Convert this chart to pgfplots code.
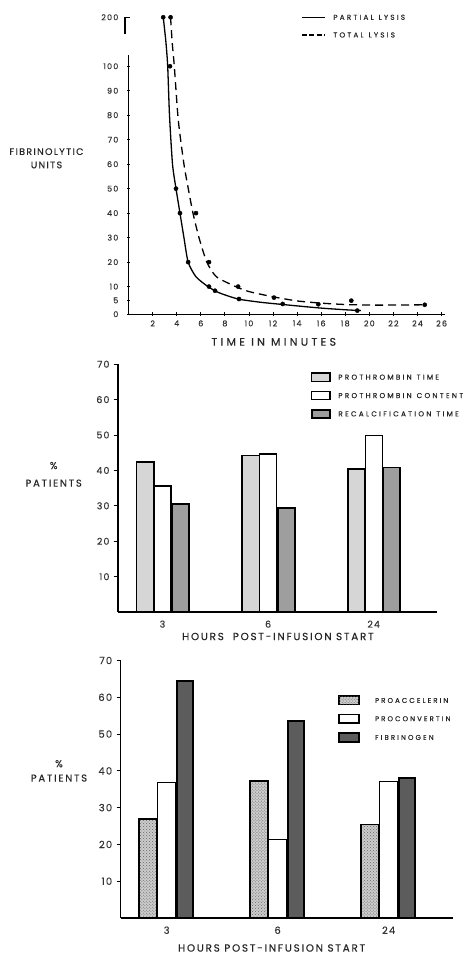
\documentclass[border=0pt]{standalone}
\usepackage{fontspec}
\setmainfont{Poppins}
\newfontfamily\lab[FakeBold=0.4]{Poppins}
\newcommand\fs[2]{\lab\addfontfeatures{LetterSpace=#2}\fontsize{#1}{#1}\selectfont}
\newcommand\ws{\hspace{5bp}}
\usepackage{pgfplots}
\pgfplotsset{compat=1.18}
\usetikzlibrary{patterns}
\definecolor{ptime}{gray}{0.84}
\definecolor{recal}{gray}{0.62}
\definecolor{proac}{gray}{0.80}
\definecolor{fibr}{gray}{0.36}
\pgfplotstableread{
x y
2.88 200
3.10 150
3.25 100
3.40 80
3.65 60
3.94 50
4.27 40
4.60 30
4.95 20
5.60 14
6.60 10
7.50 7.8
9.10 5.5
11.0 4.3
12.6 3.6
14.0 3.0
16.0 2.2
18.0 1.6
19.3 1.3
}\partialcurve
\pgfplotstableread{
x y
3.49 200
3.62 150
3.80 100
4.13 78
4.60 60
4.96 50
5.35 40
5.85 30
6.50 20
7.30 14
8.90 10
10.0 8.2
12.0 6.3
14.0 4.8
16.0 4.0
18.0 3.5
20.0 3.3
22.0 3.3
24.6 3.4
}\totalcurve
\pgfplotstableread{
x y
2.88 200
3.94 50
4.27 40
4.95 20
6.68 10
7.18 8.5
9.17 5.5
12.8 3.7
19.0 1.3
}\partialpts
\pgfplotstableread{
x y
3.49 200
3.44 100
5.60 40
6.68 20
9.10 10
12.08 6.0
15.76 3.6
18.5 4.9
24.6 3.4
}\totalpts
\begin{document}
\begin{tikzpicture}
\begin{scope}[x=1bp,y=1bp]
\path[use as bounding box] (0,0) rectangle (461,955);
\end{scope}
% ---------------- panel 1 ----------------
\begin{axis}[at={(128.6bp,640.7bp)}, anchor=south west, scale only axis,
  width=316.5bp, height=297bp, clip=false,
  xmin=0, xmax=26.28, ymin=0, ymax=200,
  y coord trafo/.code={\pgfmathparse{ifthenelse(#1<=10,#1*1.127,ifthenelse(#1<=100,#1+1.27,101.27+(#1-100)*0.2))}},
  axis x line=bottom, axis y line=left, axis line style={-, line width=1.2bp},
  y axis line style={draw=none},
  xtick={2,4,...,26}, ytick={0,5,10,20,30,40,50,60,70,80,90,100,200},
  yticklabels={0,5,10,20,30,40,50,60,70,80,90,100,200},
  tick align=center, major tick length=3.5bp, tick style={black, line width=0.8bp},
  /pgf/number format/assume math mode=true,
  ticklabel style={font=\fs{8}{15}, text=black!80},
  yticklabel style={xshift=-5bp},
  xticklabel style={yshift=-1bp},
]
\addplot[black, line width=1.3bp, smooth, tension=0.4] table {\partialcurve};
\addplot[black, line width=1.3bp, dash pattern=on 8bp off 5bp, smooth, tension=0.4] table {\totalcurve};
\addplot[only marks, mark=*, mark size=2.1pt, black] table {\partialpts};
\addplot[only marks, mark=*, mark size=2.1pt, black] table {\totalpts};
\draw[line width=1.2bp] (axis cs:0,0) -- (axis cs:0,123);
\draw[line width=1.2bp] (axis cs:-0.3,165) -- (axis cs:-0.3,200) -- (axis cs:0.1,200);
\end{axis}
% ---------------- panel 2 ----------------
\begin{axis}[at={(118bp,342.7bp)}, anchor=south west, scale only axis,
  width=318.7bp, height=248bp, clip=false,
  xmin=-0.421, xmax=2.595, ymin=0, ymax=70,
  axis x line=bottom, axis y line=left, axis line style={-, line width=1.3bp},
  xtick={0,1,2}, xticklabels={3,6,24}, ytick={10,20,...,70},
  xtick style={draw=none}, ytick style={black, line width=1bp},
  tick align=outside, major tick length=4bp,
  /pgf/number format/assume math mode=true,
  ticklabel style={font=\fs{9.5}{12}, text=black!80},
  yticklabel style={xshift=-1bp},
  xticklabel style={yshift=-1bp},
  ybar,
]
\addplot[ybar, bar width=17.2bp, bar shift=-17.2bp, fill=ptime, draw=black, line width=1.6bp] coordinates {(0,42.3) (1,44.2) (2,40.4)};
\addplot[ybar, bar width=17bp, bar shift=0bp, fill=white, draw=black, line width=1.4bp] coordinates {(0,35.6) (1,44.6) (2,49.8)};
\addplot[ybar, bar width=16.7bp, bar shift=18.2bp, fill=recal, draw=black, line width=1.8bp] coordinates {(0,30.6) (1,29.4) (2,40.8)};
\end{axis}
% ---------------- panel 3 ----------------
\begin{axis}[at={(120.7bp,36.7bp)}, anchor=south west, scale only axis,
  width=332.6bp, height=257.6bp, clip=false,
  xmin=-0.414, xmax=2.581, ymin=0, ymax=70,
  axis x line=bottom, axis y line=left, axis line style={-, line width=1.3bp},
  xtick={0,1,2}, xticklabels={3,6,24}, ytick={10,20,...,70},
  xtick style={draw=none}, ytick style={black, line width=1bp},
  tick align=outside, major tick length=4bp,
  /pgf/number format/assume math mode=true,
  ticklabel style={font=\fs{10}{12}, text=black!80},
  yticklabel style={xshift=-1bp},
  xticklabel style={yshift=-1bp},
  ybar,
]
\addplot[ybar, bar width=18.3bp, bar shift=-18.6bp, fill=proac, draw=black, line width=1.6bp, postaction={pattern=crosshatch dots, pattern color=gray!80!black}] coordinates {(0,26.9) (1,37.2) (2,25.4)};
\addplot[ybar, bar width=18.6bp, bar shift=0bp, fill=white, draw=black, line width=1.4bp] coordinates {(0,36.9) (1,21.4) (2,37.1)};
\addplot[ybar, bar width=16bp, bar shift=18bp, fill=fibr, draw=black, line width=1.8bp] coordinates {(0,64.5) (1,53.5) (2,38.1)};
\end{axis}
% ---------------- texts and legends ----------------
\begin{scope}[x=1bp,y=1bp]
\node[font=\fs{9.5}{14}, text=black!85] at (46.5,803.3) {FIBRINOLYTIC};
\node[font=\fs{9.5}{14}, text=black!85] at (46.5,790) {UNITS};
\node[font=\fs{11}{30}, text=black!85] at (273.8,613) {TIME IN MINUTES};
\draw[line width=1.3bp] (301.7,937.7) -- (325,937.7);
\draw[line width=1.3bp, dash pattern=on 5bp off 2.5bp] (301.7,920) -- (325,920);
\node[anchor=west, font=\fs{7.2}{31}, inner sep=0pt, text=black!85] at (333.3,937.7) {PARTIAL\ws LYSIS};
\node[anchor=west, font=\fs{7.2}{31}, inner sep=0pt, text=black!85] at (333.3,920) {TOTAL\ws LYSIS};
% panel 2
\node[font=\fs{10}{18}, text=black!85] at (53.7,489.3) {\%};
\node[font=\fs{10}{18}, text=black!85] at (53.7,471.7) {PATIENTS};
\node[font=\fs{10.4}{17}, text=black!85] at (278,318.3) {HOURS\ \ POST\,-\,INFUSION START};
\draw[line width=1.6bp, fill=ptime] (311.7,573.5) rectangle (330,581.9);
\draw[line width=1.4bp, fill=white] (311.7,555.1) rectangle (330,563.5);
\draw[line width=1.8bp, fill=recal] (311.7,536.8) rectangle (330,545.2);
\node[anchor=west, font=\fs{7.2}{32}, inner sep=0pt, text=black!85] at (338.3,577.7) {PROTHROMBIN\ws TIME};
\node[anchor=west, font=\fs{7.2}{32}, inner sep=0pt, text=black!85] at (338.3,559.3) {PROTHROMBIN\ws CONTENT};
\node[anchor=west, font=\fs{7.2}{32}, inner sep=0pt, text=black!85] at (338.3,541) {RECALCIFICATION\ws TIME};
% panel 3
\node[font=\fs{10}{18}, text=black!85] at (59,191) {\%};
\node[font=\fs{10}{18}, text=black!85] at (59,176.7) {PATIENTS};
\node[font=\fs{10.4}{17}, text=black!85] at (271.7,6.7) {HOURS POST\,-\,INFUSION START};
\draw[line width=1.6bp, fill=proac, postaction={pattern=crosshatch dots, pattern color=gray!80!black}] (339.3,250.1) rectangle (359,258.5);
\draw[line width=1.4bp, fill=white] (339.3,231.8) rectangle (359,240.2);
\draw[line width=1.8bp, fill=fibr] (339.3,213.1) rectangle (359,221.5);
\node[anchor=west, font=\fs{7}{30}, inner sep=0pt, text=black!85] at (375,254.3) {PROACCELERIN};
\node[anchor=west, font=\fs{7}{30}, inner sep=0pt, text=black!85] at (375,236) {PROCONVERTIN};
\node[anchor=west, font=\fs{7}{30}, inner sep=0pt, text=black!85] at (375,217.3) {FIBRINOGEN};
\end{scope}
\end{tikzpicture}
\end{document}
